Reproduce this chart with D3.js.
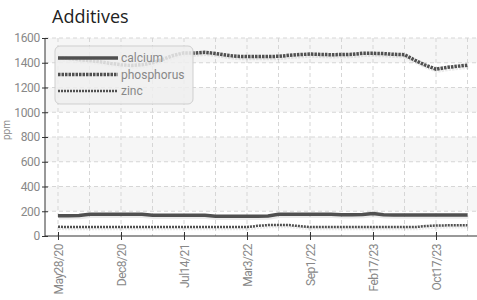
<!DOCTYPE html>
<html>
<head>
<meta charset="utf-8">
<script src="https://cdn.jsdelivr.net/npm/d3@7"></script>
<style>
  body { margin: 0; background: #fff; }
  svg { display: block; }
</style>
</head>
<body>
<svg id="chart" width="477" height="300"></svg>
<script>
const dates = [
  "May28/20", "Jun30/20", "Jul28/20", "Aug27/20", "Sep29/20", "Nov2/20",
  "Dec8/20", "Jan12/21", "Feb16/21", "Mar18/21", "Apr21/21", "Jun1/21",
  "Jul14/21", "Aug19/21", "Sep22/21", "Oct27/21", "Dec1/21", "Jan20/22",
  "Mar3/22", "Apr5/22", "May4/22", "Jun6/22", "Jul7/22", "Aug3/22",
  "Sep1/22", "Oct3/22", "Nov2/22", "Dec5/22", "Jan9/23", "Jan30/23",
  "Feb17/23", "Mar20/23", "Apr24/23", "May30/23", "Jul10/23", "Aug28/23",
  "Oct17/23", "Nov20/23", "Dec18/23", "Jan22/24"
];
const calcium = [
  164, 164, 165, 176, 176, 176, 176, 176, 175, 168,
  168, 168, 168, 168, 167, 160, 160, 160, 160, 160,
  162, 176, 176, 176, 176, 176, 175, 172, 172, 174,
  182, 172, 170, 170, 170, 170, 170, 170, 170, 170
];
const phosphorus = [
  1440, 1435, 1425, 1418, 1408, 1395, 1384, 1378, 1384, 1400,
  1428, 1460, 1480, 1478, 1484, 1475, 1462, 1452, 1450, 1450,
  1450, 1452, 1460, 1466, 1470, 1467, 1465, 1466, 1468, 1476,
  1476, 1474, 1468, 1465, 1420, 1380, 1348, 1362, 1372, 1380
];
const zinc = [
  75, 72, 72, 72, 72, 72, 72, 72, 72, 72,
  72, 72, 72, 72, 72, 72, 72, 72, 72, 82,
  88, 88, 88, 80, 72, 72, 72, 72, 72, 72,
  72, 72, 72, 72, 72, 80, 85, 86, 86, 86
];
const seriesNames = ["calcium", "phosphorus", "zinc"];
const yTicks = [0, 200, 400, 600, 800, 1000, 1200, 1400, 1600];
const labelEvery = 6;
const gridEvery = 3;

const svg = d3.select("#chart");
const width = 477, height = 300;
const plot = { left: 45, right: 477, top: 38, bottom: 236 };

const x = d3.scalePoint().domain(d3.range(dates.length)).range([58, 467.5]);
const y = d3.scaleLinear().domain([0, 1600]).range([plot.bottom, plot.top]);

const styles = {
  calcium: { width: 3.5, dash: null },
  phosphorus: { width: 3.5, dash: "2.5,1" },
  zinc: { width: 2.5, dash: "2,1" }
};
const values = { calcium, phosphorus, zinc };
const tickFont = "'Roboto', sans-serif";

// alternating bands
svg.append("g")
  .selectAll("rect")
  .data(d3.range(0, yTicks.length - 1).filter((i) => i % 2 === 1))
  .join("rect")
  .attr("x", plot.left)
  .attr("width", plot.right - plot.left)
  .attr("y", (i) => y(yTicks[i + 1]))
  .attr("height", (i) => y(yTicks[i]) - y(yTicks[i + 1]))
  .attr("fill", "#f6f6f6");

// grid
const grid = svg.append("g").attr("stroke", "#d6d6d6").attr("stroke-dasharray", "4,3");
grid.selectAll("line.h")
  .data(yTicks.slice(1))
  .join("line")
  .attr("x1", plot.left).attr("x2", plot.right)
  .attr("y1", (d) => y(d)).attr("y2", (d) => y(d));
grid.selectAll("line.v")
  .data(d3.range(0, dates.length, gridEvery))
  .join("line")
  .attr("x1", (d) => x(d)).attr("x2", (d) => x(d))
  .attr("y1", plot.top).attr("y2", plot.bottom);

// lines (with soft shadow)
const line = (vals) => d3.line().x((d, i) => x(i)).y((d) => y(d))(vals);
for (const name of seriesNames) {
  const s = styles[name];
  svg.append("path")
    .attr("d", line(values[name]))
    .attr("fill", "none")
    .attr("stroke", "rgba(0,0,0,0.08)")
    .attr("stroke-width", s.width)
    .attr("stroke-dasharray", s.dash)
    .attr("transform", "translate(1,2)");
  svg.append("path")
    .attr("d", line(values[name]))
    .attr("fill", "none")
    .attr("stroke", "#505050")
    .attr("stroke-width", s.width)
    .attr("stroke-dasharray", s.dash);
}

// axes
const yAxis = svg.append("g")
  .attr("transform", `translate(${plot.left},0)`)
  .call(d3.axisLeft(y).tickValues(yTicks).tickFormat(d3.format("d")).tickSize(3).tickPadding(2));
yAxis.select(".domain").attr("stroke", "#333").attr("d", `M0,${plot.top}V${plot.bottom}`);
yAxis.selectAll(".tick line").attr("x1", -3).attr("x2", 3).attr("stroke", "#333");
yAxis.selectAll(".tick text")
  .attr("font-family", tickFont).attr("font-size", 12).attr("fill", "#888")
  .attr("letter-spacing", -0.3);

const xAxis = svg.append("g")
  .attr("transform", `translate(0,${plot.bottom})`)
  .call(d3.axisBottom(x)
    .tickValues(d3.range(0, dates.length, labelEvery))
    .tickFormat((i) => dates[i])
    .tickSize(4));
xAxis.select(".domain").attr("stroke", "#333").attr("d", `M${plot.left},0H${width}`);
xAxis.selectAll(".tick line").attr("y1", -4).attr("y2", 4).attr("stroke", "#333");
xAxis.selectAll(".tick text")
  .attr("font-family", tickFont).attr("font-size", 12).attr("fill", "#888")
  .attr("letter-spacing", -0.5)
  .attr("transform", "rotate(-90)")
  .attr("text-anchor", "end")
  .attr("x", -8).attr("y", 0).attr("dy", "0.35em");

// titles
svg.append("text")
  .attr("x", 52).attr("y", 23)
  .attr("font-family", "'Open Sans', sans-serif").attr("font-size", 18)
  .attr("fill", "#222")
  .text("Additives");
svg.append("text")
  .attr("transform", "translate(10,130) rotate(-90)")
  .attr("text-anchor", "middle")
  .attr("font-family", tickFont).attr("font-size", 10)
  .attr("fill", "#888")
  .text("ppm");

// legend
const legend = svg.append("g").attr("transform", "translate(55,46)");
legend.append("rect")
  .attr("width", 138).attr("height", 58).attr("rx", 5)
  .attr("fill", "#eeeeee").attr("fill-opacity", 0.85)
  .attr("stroke", "#cfcfcf");
seriesNames.forEach((name, i) => {
  const s = styles[name];
  const row = legend.append("g").attr("transform", `translate(0,${12 + i * 16.5})`);
  row.append("line")
    .attr("x1", 3).attr("x2", 63)
    .attr("stroke", "#505050")
    .attr("stroke-width", s.width)
    .attr("stroke-dasharray", s.dash);
  row.append("text")
    .attr("x", 66).attr("dy", "0.35em")
    .attr("font-family", tickFont).attr("font-size", 12)
    .attr("fill", "#888")
    .text(name);
});
</script>
</body>
</html>
